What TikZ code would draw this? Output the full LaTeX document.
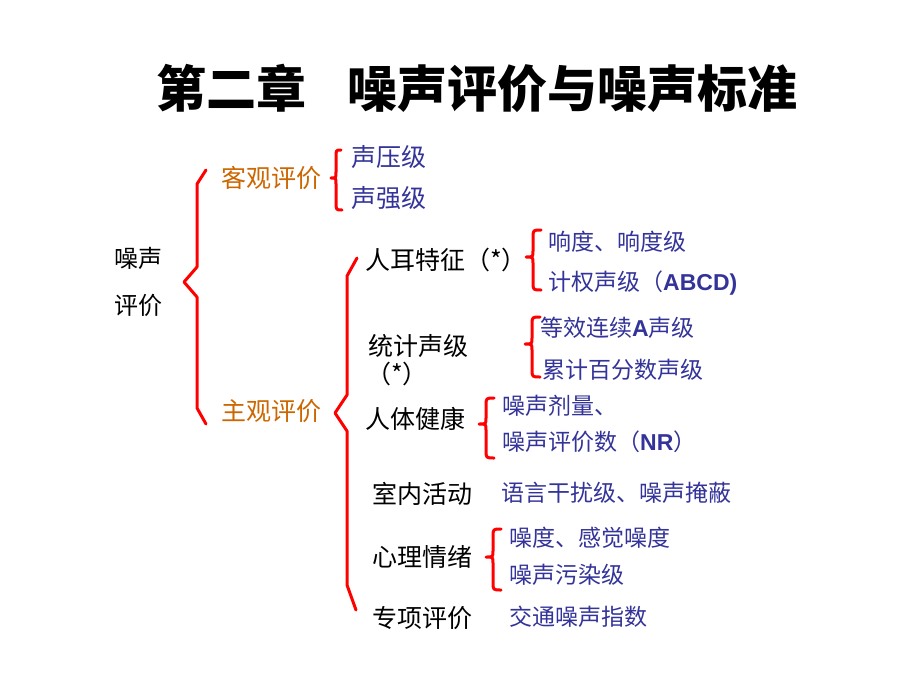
\documentclass[tikz,border=0pt]{standalone}
\usepackage{fontspec}
\setmainfont{Liberation Sans}
\newfontfamily\latin{Liberation Sans}
\newfontfamily\cjk{Noto Sans CJK SC}
\definecolor{corange}{RGB}{204,102,0}
\definecolor{cblue}{RGB}{51,51,153}
\definecolor{cred}{RGB}{255,0,0}
\tikzset{
  base/.style={anchor=west, inner sep=0pt},
  ttl/.style={base, font=\cjk\bfseries\fontsize{50}{56}\selectfont, text height=41.5pt, text depth=3.5pt},
  blk/.style={base, font=\cjk\fontsize{25}{30}\selectfont, text height=20.75pt, text depth=1.75pt, text=black},
  blk24/.style={base, font=\cjk\fontsize{24}{29}\selectfont, text height=19.9pt, text depth=1.7pt, text=black},
  org/.style={blk, text=corange},
  blu25/.style={blk, text=cblue},
  blu/.style={base, font=\cjk\fontsize{23}{28}\selectfont, text height=19.1pt, text depth=1.6pt, text=cblue},
  brc/.style={draw=cred, line width=3pt, line join=round, line cap=round},
}
\begin{document}
\begin{tikzpicture}[x=1pt, y=-1pt]
\useasboundingbox (0,0) rectangle (920,690);
% title
\node[ttl] (t1) at (156,88) {第二章};
\node[ttl] (t2) at (347,88) {噪声评价与噪声标准};
% level 0
\node[blk24] (zs) at (114,258) {噪声};
\node[blk24] (pj) at (114,305) {评价};
% level 1
\node[org] (kg) at (221,178) {客观评价};
\node[org] (zg) at (221,411) {主观评价};
% objective
\node[blu25] (syj) at (351,157) {声压级};
\node[blu25] (sqj) at (351,198) {声强级};
% subjective
\node[blk] (re) at (365,260) {人耳特征（*）};
\node[blu] (xd) at (548,242) {响度、响度级};
\node[blu] (jq) at (548,282) {计权声级（{\latin\bfseries ABCD)}};
\node[blk] (tj) at (368,346) {统计声级};
\node[blk] (tjs) at (366,374) {（*）};
\node[blu] (dx) at (540,328) {等效连续{\latin\bfseries A}声级};
\node[blu] (lj) at (542,370) {累计百分数声级};
\node[blk] (rt) at (365,419) {人体健康};
\node[blu] (jl) at (502,406) {噪声剂量、};
\node[blu] (nr) at (502,442) {噪声评价数（{\latin\bfseries NR}）};
\node[blk] (sn) at (372,494) {室内活动};
\node[blu] (yy) at (501,493) {语言干扰级、噪声掩蔽};
\node[blk] (xl) at (372,557) {心理情绪};
\node[blu] (zd) at (509,538) {噪度、感觉噪度};
\node[blu] (wr) at (509,575) {噪声污染级};
\node[blk] (zx) at (372,618) {专项评价};
\node[blu] (jt) at (509,617) {交通噪声指数};
% big braces
\draw[brc] (206,170) -- (197,184) -- (197,267) -- (184,282) -- (197,297) -- (197,408) -- (206,424);
\draw[brc] (357,258) -- (347,276) -- (347,395) -- (335,413) -- (347,431) -- (347,585) -- (356,610);
% small curly braces
\draw[brc] (341,150) .. controls (336,150) .. (336,157) -- (336,172) .. controls (336,178) .. (331,178) .. controls (336,178) .. (336,184) -- (336,202) .. controls (336,210) .. (342,210);
\draw[brc] (541,230) .. controls (533,230) .. (533,238) -- (533,251) .. controls (533,257) .. (526,257) .. controls (533,257) .. (533,263) -- (533,282) .. controls (533,290) .. (541,290);
\draw[brc] (540,317) .. controls (532,317) .. (532,325) -- (532,338) .. controls (532,344) .. (525,344) .. controls (532,344) .. (532,350) -- (532,369) .. controls (532,377) .. (540,377);
\draw[brc] (494,398) .. controls (486,398) .. (486,406) -- (486,418) .. controls (486,424) .. (479,424) .. controls (486,424) .. (486,430) -- (486,450) .. controls (486,458) .. (494,458);
\draw[brc] (501,529) .. controls (493,529) .. (493,537) -- (493,551) .. controls (493,557) .. (486,557) .. controls (493,557) .. (493,563) -- (493,582) .. controls (493,590) .. (501,590);
\end{tikzpicture}
\end{document}
